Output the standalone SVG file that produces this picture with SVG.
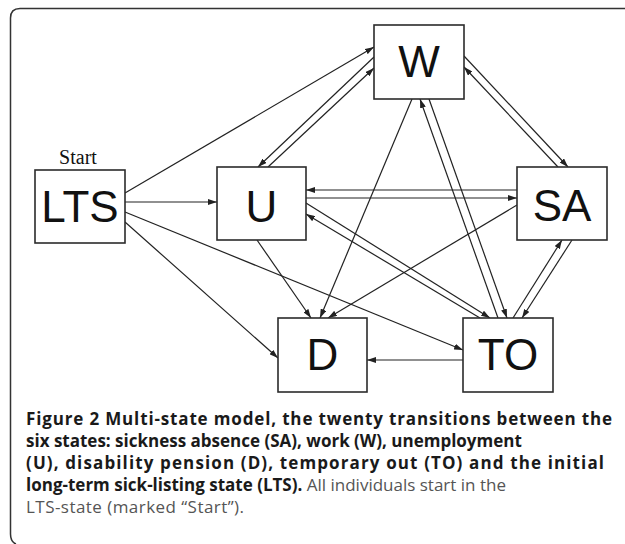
<svg xmlns="http://www.w3.org/2000/svg" width="625" height="544" viewBox="0 0 625 544">
<defs>
<style>
.box{fill:#fff;stroke:#2b2b2b;stroke-width:1.6}
.lbl{font-family:"Liberation Sans",Arial,sans-serif;font-size:44px;fill:#111;text-anchor:middle}
.edge{stroke:#222;stroke-width:1.2;fill:none;marker-end:url(#ah)}
.cap{font-family:"Open Sans","Noto Sans",sans-serif;font-size:17px}
.b{font-weight:bold;fill:#1a1a1a}
.r{fill:#555}
</style>
<marker id="ah" markerUnits="userSpaceOnUse" markerWidth="9" markerHeight="6" refX="9" refY="3" orient="auto">
<path d="M0,0 L9,3 L0,6 z" fill="#222"/>
</marker>
</defs>
<rect width="625" height="544" fill="#fff"/>
<path d="M625,8.5 H20 Q10.5,8.5 10.5,18 V534 Q10.5,542 16,544" fill="none" stroke="#333" stroke-width="1.5"/>
<g id="connectors">
<line class="edge" x1="125" y1="193" x2="374" y2="47"/>
<line class="edge" x1="125" y1="202" x2="217" y2="202"/>
<line class="edge" x1="125" y1="212" x2="463" y2="350"/>
<line class="edge" x1="125" y1="222" x2="278" y2="358"/>
<line class="edge" x1="374" y1="57" x2="258" y2="167"/>
<line class="edge" x1="268" y1="167" x2="374" y2="68"/>
<line class="edge" x1="464" y1="56" x2="568" y2="167"/>
<line class="edge" x1="558" y1="167" x2="464" y2="67"/>
<line class="edge" x1="412" y1="99" x2="320" y2="318"/>
<line class="edge" x1="498" y1="318" x2="420" y2="99"/>
<line class="edge" x1="429" y1="99" x2="507" y2="318"/>
<line class="edge" x1="517" y1="190" x2="306" y2="190"/>
<line class="edge" x1="306" y1="198" x2="517" y2="198"/>
<line class="edge" x1="306" y1="203" x2="490" y2="318"/>
<line class="edge" x1="480" y1="318" x2="306" y2="214"/>
<line class="edge" x1="257" y1="240" x2="311" y2="318"/>
<line class="edge" x1="517" y1="205" x2="328" y2="318"/>
<line class="edge" x1="513" y1="318" x2="562" y2="240"/>
<line class="edge" x1="572" y1="240" x2="522" y2="318"/>
<line class="edge" x1="463" y1="360" x2="367" y2="360"/>
</g>
<g id="node-LTS">
<text x="78" y="164" font-family="'Liberation Serif','Times New Roman',serif" font-size="20" fill="#111" text-anchor="middle">Start</text>
<rect class="box" x="35" y="170" width="90" height="73"/>
<text class="lbl" x="80" y="222">LTS</text>
</g>
<g id="node-U">
<rect class="box" x="217" y="167" width="89" height="73"/>
<text class="lbl" x="261.5" y="222">U</text>
</g>
<g id="node-W">
<rect class="box" x="374" y="25" width="90" height="74"/>
<text class="lbl" x="419" y="77">W</text>
</g>
<g id="node-SA">
<rect class="box" x="517" y="167" width="90" height="73"/>
<text class="lbl" x="562" y="221">SA</text>
</g>
<g id="node-D">
<rect class="box" x="278" y="318" width="89" height="74"/>
<text class="lbl" x="322.5" y="370">D</text>
</g>
<g id="node-TO">
<rect class="box" x="463" y="318" width="90" height="74"/>
<text class="lbl" x="508" y="370">TO</text>
</g>
<g id="caption" class="cap">
<text x="26" y="425" class="b" textLength="586">Figure 2 Multi-state model, the twenty transitions between the</text>
<text x="26" y="447" class="b">six states: sickness absence (SA), work (W), unemployment</text>
<text x="26" y="469" class="b" textLength="578">(U), disability pension (D), temporary out (TO) and the initial</text>
<text x="26" y="491"><tspan class="b">long-term sick-listing state (LTS).</tspan><tspan class="r"> All individuals start in the</tspan></text>
<text x="26" y="513" class="r" textLength="218">LTS-state (marked “Start”).</text>
</g>
</svg>
